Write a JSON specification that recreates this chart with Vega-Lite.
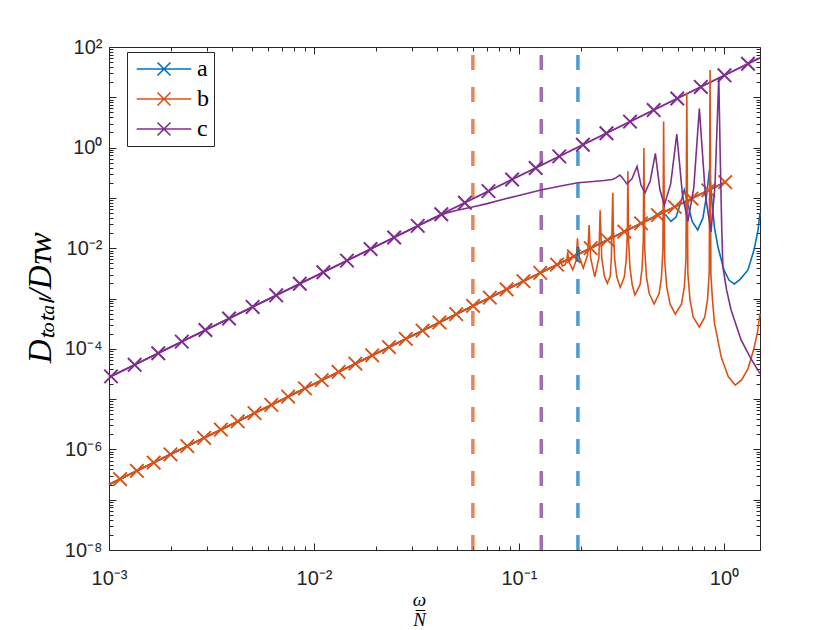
{
  "$schema": "https://vega.github.io/schema/vega-lite/v6.json",
  "width": 651,
  "height": 503,
  "autosize": {"type": "none"},
  "padding": {"left": 109, "top": 47, "right": 80, "bottom": 80},
  "background": "#ffffff",
  "config": {
    "view": {"stroke": null},
    "axis": {
      "grid": false,
      "domainColor": "#262626",
      "domainWidth": 1,
      "tickColor": "#262626",
      "tickWidth": 1,
      "labelColor": "#262626",
      "labelFont": "Liberation Sans",
      "labelFontSize": 20,
      "labelFlush": false,
      "labelOverlap": false,
      "labelBound": false,
      "tickCount": 50
    }
  },
  "datasets": {
    "fit": [
      {"series": "a", "omega": 0.001, "D": 2e-7},
      {"series": "a", "omega": 1.014, "D": 0.2056},
      {"series": "b", "omega": 0.001, "D": 2e-7},
      {"series": "b", "omega": 1.014, "D": 0.2056},
      {"series": "c", "omega": 0.001, "D": 2.7e-5},
      {"series": "c", "omega": 1.5, "D": 60.75}
    ],
    "markers": [
      {"series": "b", "omega": 0.0011324, "D": 2.565e-7},
      {"series": "b", "omega": 0.0013677, "D": 3.741e-7},
      {"series": "b", "omega": 0.001652, "D": 5.458e-7},
      {"series": "b", "omega": 0.0019953, "D": 7.962e-7},
      {"series": "b", "omega": 0.0024099, "D": 1.1614e-6},
      {"series": "b", "omega": 0.0029107, "D": 1.6943e-6},
      {"series": "b", "omega": 0.0035156, "D": 2.4717e-6},
      {"series": "b", "omega": 0.0042462, "D": 3.6058e-6},
      {"series": "b", "omega": 0.0051286, "D": 5.2602e-6},
      {"series": "b", "omega": 0.0061944, "D": 7.674e-6},
      {"series": "b", "omega": 0.0074817, "D": 1.1194e-5},
      {"series": "b", "omega": 0.0090365, "D": 1.6331e-5},
      {"series": "b", "omega": 0.010914, "D": 2.3823e-5},
      {"series": "b", "omega": 0.013183, "D": 3.4754e-5},
      {"series": "b", "omega": 0.015922, "D": 5.0699e-5},
      {"series": "b", "omega": 0.019231, "D": 7.396e-5},
      {"series": "b", "omega": 0.023227, "D": 1.0789e-4},
      {"series": "b", "omega": 0.028054, "D": 1.574e-4},
      {"series": "b", "omega": 0.033884, "D": 2.2961e-4},
      {"series": "b", "omega": 0.040926, "D": 3.3497e-4},
      {"series": "b", "omega": 0.049431, "D": 4.8865e-4},
      {"series": "b", "omega": 0.059704, "D": 7.1285e-4},
      {"series": "b", "omega": 0.072111, "D": 1.0399e-3},
      {"series": "b", "omega": 0.087096, "D": 1.5171e-3},
      {"series": "b", "omega": 0.1052, "D": 2.2131e-3},
      {"series": "b", "omega": 0.12706, "D": 3.2285e-3},
      {"series": "b", "omega": 0.15346, "D": 4.7098e-3},
      {"series": "b", "omega": 0.18535, "D": 6.8707e-3},
      {"series": "b", "omega": 0.22387, "D": 0.010023},
      {"series": "b", "omega": 0.2704, "D": 0.014622},
      {"series": "b", "omega": 0.32659, "D": 0.02133},
      {"series": "b", "omega": 0.39446, "D": 0.031117},
      {"series": "b", "omega": 0.47643, "D": 0.045394},
      {"series": "b", "omega": 0.57544, "D": 0.066222},
      {"series": "b", "omega": 0.69502, "D": 0.096605},
      {"series": "b", "omega": 0.83946, "D": 0.14093},
      {"series": "b", "omega": 1.01391, "D": 0.20559},
      {"series": "c", "omega": 0.001023, "D": 2.83e-5},
      {"series": "c", "omega": 0.001334, "D": 4.8e-5},
      {"series": "c", "omega": 0.001739, "D": 8.16e-5},
      {"series": "c", "omega": 0.002266, "D": 1.387e-4},
      {"series": "c", "omega": 0.002954, "D": 2.357e-4},
      {"series": "c", "omega": 0.003851, "D": 4.003e-4},
      {"series": "c", "omega": 0.005019, "D": 6.8e-4},
      {"series": "c", "omega": 0.006542, "D": 1.156e-3},
      {"series": "c", "omega": 0.008527, "D": 1.963e-3},
      {"series": "c", "omega": 0.01111, "D": 3.336e-3},
      {"series": "c", "omega": 0.01449, "D": 5.67e-3},
      {"series": "c", "omega": 0.01888, "D": 9.63e-3},
      {"series": "c", "omega": 0.02461, "D": 0.01636},
      {"series": "c", "omega": 0.03208, "D": 0.0278},
      {"series": "c", "omega": 0.04181, "D": 0.0472},
      {"series": "c", "omega": 0.0545, "D": 0.0802},
      {"series": "c", "omega": 0.07104, "D": 0.1364},
      {"series": "c", "omega": 0.0926, "D": 0.2316},
      {"series": "c", "omega": 0.1207, "D": 0.3936},
      {"series": "c", "omega": 0.1573, "D": 0.6686},
      {"series": "c", "omega": 0.2051, "D": 1.136},
      {"series": "c", "omega": 0.2673, "D": 1.93},
      {"series": "c", "omega": 0.3484, "D": 3.28},
      {"series": "c", "omega": 0.4542, "D": 5.572},
      {"series": "c", "omega": 0.592, "D": 9.468},
      {"series": "c", "omega": 0.7718, "D": 16.09},
      {"series": "c", "omega": 1.006, "D": 27.33},
      {"series": "c", "omega": 1.311, "D": 46.43}
    ],
    "sim": [
      {"series": "a", "omega": 0.001, "D": 2e-7},
      {"series": "a", "omega": 0.01, "D": 2e-5},
      {"series": "a", "omega": 0.1, "D": 0.002},
      {"series": "a", "omega": 0.2, "D": 0.008},
      {"series": "a", "omega": 0.3, "D": 0.018},
      {"series": "a", "omega": 0.4, "D": 0.032},
      {"series": "a", "omega": 0.45, "D": 0.041},
      {"series": "a", "omega": 0.49, "D": 0.052},
      {"series": "a", "omega": 0.52, "D": 0.046},
      {"series": "a", "omega": 0.552, "D": 0.034},
      {"series": "a", "omega": 0.585, "D": 0.042},
      {"series": "a", "omega": 0.615, "D": 0.08},
      {"series": "a", "omega": 0.641, "D": 0.144},
      {"series": "a", "omega": 0.665, "D": 0.08},
      {"series": "a", "omega": 0.7, "D": 0.034},
      {"series": "a", "omega": 0.745, "D": 0.023},
      {"series": "a", "omega": 0.79, "D": 0.04},
      {"series": "a", "omega": 0.825, "D": 0.12},
      {"series": "a", "omega": 0.85, "D": 0.36},
      {"series": "a", "omega": 0.875, "D": 0.08},
      {"series": "a", "omega": 0.9, "D": 0.025},
      {"series": "a", "omega": 0.935, "D": 0.0107},
      {"series": "a", "omega": 1.0, "D": 0.0037},
      {"series": "a", "omega": 1.06, "D": 0.0023},
      {"series": "a", "omega": 1.125, "D": 0.00195},
      {"series": "a", "omega": 1.2, "D": 0.0024},
      {"series": "a", "omega": 1.31, "D": 0.0037},
      {"series": "a", "omega": 1.4, "D": 0.009},
      {"series": "a", "omega": 1.466, "D": 0.022},
      {"series": "a", "omega": 1.5, "D": 0.05},
      {"series": "b", "omega": 0.001, "D": 2e-7},
      {"series": "b", "omega": 0.01, "D": 2e-5},
      {"series": "b", "omega": 0.05, "D": 5e-4},
      {"series": "b", "omega": 0.1, "D": 0.002},
      {"series": "b", "omega": 0.13, "D": 0.00338},
      {"series": "b", "omega": 0.15, "D": 0.0045},
      {"series": "b", "omega": 0.156, "D": 0.0049},
      {"series": "b", "omega": 0.159, "D": 0.0058},
      {"series": "b", "omega": 0.163, "D": 0.0044},
      {"series": "b", "omega": 0.168, "D": 0.0047},
      {"series": "b", "omega": 0.1715, "D": 0.0062},
      {"series": "b", "omega": 0.173, "D": 0.0085},
      {"series": "b", "omega": 0.175, "D": 0.0055},
      {"series": "b", "omega": 0.183, "D": 0.0037},
      {"series": "b", "omega": 0.1905, "D": 0.0058},
      {"series": "b", "omega": 0.193, "D": 0.0158},
      {"series": "b", "omega": 0.1955, "D": 0.0075},
      {"series": "b", "omega": 0.206, "D": 0.004},
      {"series": "b", "omega": 0.2165, "D": 0.0075},
      {"series": "b", "omega": 0.22, "D": 0.029},
      {"series": "b", "omega": 0.2235, "D": 0.0065},
      {"series": "b", "omega": 0.2345, "D": 0.0027},
      {"series": "b", "omega": 0.2455, "D": 0.0065},
      {"series": "b", "omega": 0.249, "D": 0.057},
      {"series": "b", "omega": 0.2535, "D": 0.0065},
      {"series": "b", "omega": 0.261, "D": 0.0028},
      {"series": "b", "omega": 0.27, "D": 0.002},
      {"series": "b", "omega": 0.279, "D": 0.0028},
      {"series": "b", "omega": 0.2825, "D": 0.0065},
      {"series": "b", "omega": 0.287, "D": 0.126},
      {"series": "b", "omega": 0.289, "D": 0.02},
      {"series": "b", "omega": 0.2934, "D": 0.0058},
      {"series": "b", "omega": 0.3003, "D": 0.0027},
      {"series": "b", "omega": 0.312, "D": 0.00166},
      {"series": "b", "omega": 0.3267, "D": 0.0027},
      {"series": "b", "omega": 0.3336, "D": 0.0058},
      {"series": "b", "omega": 0.338, "D": 0.02},
      {"series": "b", "omega": 0.34, "D": 0.34},
      {"series": "b", "omega": 0.3427, "D": 0.014},
      {"series": "b", "omega": 0.348, "D": 0.0041},
      {"series": "b", "omega": 0.3568, "D": 0.0019},
      {"series": "b", "omega": 0.368, "D": 0.00117},
      {"series": "b", "omega": 0.3903, "D": 0.0019},
      {"series": "b", "omega": 0.399, "D": 0.0041},
      {"series": "b", "omega": 0.4043, "D": 0.014},
      {"series": "b", "omega": 0.407, "D": 0.98},
      {"series": "b", "omega": 0.411, "D": 0.0094},
      {"series": "b", "omega": 0.419, "D": 0.0027},
      {"series": "b", "omega": 0.432, "D": 0.00125},
      {"series": "b", "omega": 0.457, "D": 0.00078},
      {"series": "b", "omega": 0.483, "D": 0.00125},
      {"series": "b", "omega": 0.496, "D": 0.0027},
      {"series": "b", "omega": 0.504, "D": 0.0094},
      {"series": "b", "omega": 0.508, "D": 3.3},
      {"series": "b", "omega": 0.514, "D": 0.0059},
      {"series": "b", "omega": 0.526, "D": 0.0017},
      {"series": "b", "omega": 0.546, "D": 0.00078},
      {"series": "b", "omega": 0.579, "D": 0.00049},
      {"series": "b", "omega": 0.621, "D": 0.00078},
      {"series": "b", "omega": 0.641, "D": 0.0017},
      {"series": "b", "omega": 0.653, "D": 0.0059},
      {"series": "b", "omega": 0.659, "D": 12},
      {"series": "b", "omega": 0.667, "D": 0.0032},
      {"series": "b", "omega": 0.683, "D": 0.00095},
      {"series": "b", "omega": 0.708, "D": 0.00043},
      {"series": "b", "omega": 0.759, "D": 0.00027},
      {"series": "b", "omega": 0.807, "D": 0.00043},
      {"series": "b", "omega": 0.832, "D": 0.00095},
      {"series": "b", "omega": 0.848, "D": 0.0032},
      {"series": "b", "omega": 0.856, "D": 35},
      {"series": "b", "omega": 0.864, "D": 0.003},
      {"series": "b", "omega": 0.88, "D": 0.0009},
      {"series": "b", "omega": 0.9, "D": 0.00032},
      {"series": "b", "omega": 0.97, "D": 6.9e-5},
      {"series": "b", "omega": 1.05, "D": 2.8e-5},
      {"series": "b", "omega": 1.135, "D": 1.9e-5},
      {"series": "b", "omega": 1.22, "D": 2.4e-5},
      {"series": "b", "omega": 1.31, "D": 4e-5},
      {"series": "b", "omega": 1.4, "D": 1e-4},
      {"series": "b", "omega": 1.46, "D": 2.2e-4},
      {"series": "b", "omega": 1.5, "D": 5e-4},
      {"series": "c", "omega": 0.001, "D": 2.7e-5},
      {"series": "c", "omega": 0.01, "D": 0.0027},
      {"series": "c", "omega": 0.03, "D": 0.0243},
      {"series": "c", "omega": 0.04, "D": 0.042},
      {"series": "c", "omega": 0.045, "D": 0.051},
      {"series": "c", "omega": 0.05, "D": 0.057},
      {"series": "c", "omega": 0.0593, "D": 0.066},
      {"series": "c", "omega": 0.07, "D": 0.077},
      {"series": "c", "omega": 0.0815, "D": 0.091},
      {"series": "c", "omega": 0.1, "D": 0.112},
      {"series": "c", "omega": 0.128, "D": 0.144},
      {"series": "c", "omega": 0.16, "D": 0.172},
      {"series": "c", "omega": 0.194, "D": 0.2},
      {"series": "c", "omega": 0.23, "D": 0.212},
      {"series": "c", "omega": 0.26, "D": 0.222},
      {"series": "c", "omega": 0.285, "D": 0.232},
      {"series": "c", "omega": 0.297, "D": 0.25},
      {"series": "c", "omega": 0.311, "D": 0.285},
      {"series": "c", "omega": 0.32, "D": 0.25},
      {"series": "c", "omega": 0.336, "D": 0.19},
      {"series": "c", "omega": 0.356, "D": 0.24},
      {"series": "c", "omega": 0.377, "D": 0.42},
      {"series": "c", "omega": 0.394, "D": 0.18},
      {"series": "c", "omega": 0.412, "D": 0.126},
      {"series": "c", "omega": 0.437, "D": 0.217},
      {"series": "c", "omega": 0.463, "D": 0.77},
      {"series": "c", "omega": 0.487, "D": 0.147},
      {"series": "c", "omega": 0.512, "D": 0.072},
      {"series": "c", "omega": 0.55, "D": 0.19},
      {"series": "c", "omega": 0.589, "D": 1.86},
      {"series": "c", "omega": 0.628, "D": 0.113},
      {"series": "c", "omega": 0.667, "D": 0.034},
      {"series": "c", "omega": 0.713, "D": 0.16},
      {"series": "c", "omega": 0.759, "D": 6},
      {"series": "c", "omega": 0.812, "D": 0.115},
      {"series": "c", "omega": 0.865, "D": 0.021},
      {"series": "c", "omega": 0.905, "D": 0.18},
      {"series": "c", "omega": 0.944, "D": 25},
      {"series": "c", "omega": 0.96, "D": 0.6},
      {"series": "c", "omega": 0.975, "D": 0.03},
      {"series": "c", "omega": 0.988, "D": 0.0043},
      {"series": "c", "omega": 1.03, "D": 0.0015},
      {"series": "c", "omega": 1.084, "D": 5.9e-4},
      {"series": "c", "omega": 1.213, "D": 1.5e-4},
      {"series": "c", "omega": 1.35, "D": 6.5e-5},
      {"series": "c", "omega": 1.5, "D": 3.2e-5}
    ],
    "cut": [
      {"series": "b", "omega": 0.0596},
      {"series": "c", "omega": 0.1285},
      {"series": "a", "omega": 0.194}
    ]
  },
  "resolve": {"axis": {"x": "independent", "y": "independent"}},
  "layer": [
    {
      "data": {"name": "sim"},
      "transform": [{"filter": "datum.series == 'a'"}],
      "mark": {"type": "line", "strokeWidth": 1.6},
      "encoding": {
        "x": {
          "field": "omega",
          "type": "quantitative",
          "scale": {"type": "log", "domain": [0.001, 1.5], "nice": false},
          "axis": {
            "orient": "bottom",
            "tickCount": 50,
            "labelExpr": "abs(log(datum.value)/LN10 - round(log(datum.value)/LN10)) < 0.000001 ? '10' + replace(replace(replace(replace(replace(toString(round(log(datum.value)/LN10)), '-', '⁻'), '0', '⁰'), '1', '¹'), '2', '²'), '3', '³') : ''",
            "tickSize": {"condition": {"test": "abs(log(datum.value)/LN10 - round(log(datum.value)/LN10)) < 0.000001", "value": -7}, "value": -4},
            "labelPadding": 25,
            "title": ["ω", "N̅"],
            "titleFont": "Liberation Serif",
            "titleFontStyle": "italic",
            "titleFontWeight": "normal",
            "titleFontSize": 19,
            "titleLineHeight": 20,
            "titleColor": "#000000",
            "titleX": 310,
            "titleY": 55,
            "titleAlign": "center",
            "titleBaseline": "alphabetic"
          }
        },
        "y": {
          "field": "D",
          "type": "quantitative",
          "scale": {"type": "log", "domain": [1e-8, 100], "nice": false},
          "axis": {
            "orient": "left",
            "tickCount": 50,
            "labelExpr": "abs(log(datum.value)/LN10 - round(log(datum.value)/LN10)) < 0.000001 && round(log(datum.value)/LN10) % 2 == 0 ? '10' + replace(replace(replace(replace(replace(replace(toString(round(log(datum.value)/LN10)), '-', '⁻'), '0', '⁰'), '2', '²'), '4', '⁴'), '6', '⁶'), '8', '⁸') : ''",
            "tickSize": {"condition": {"test": "abs(log(datum.value)/LN10 - round(log(datum.value)/LN10)) < 0.000001", "value": -7}, "value": -4},
            "labelPadding": 14,
            "title": "Dₜₒₜₐₗ/Dᴛᴡ",
            "titleFont": "Liberation Serif",
            "titleFontStyle": "italic",
            "titleFontWeight": "normal",
            "titleFontSize": 33,
            "titleColor": "#000000",
            "titleAngle": 270,
            "titleX": -69,
            "titleY": 251,
            "titleAlign": "center",
            "titleBaseline": "middle"
          }
        },
        "color": {
          "field": "series",
          "type": "nominal",
          "scale": {"domain": ["a", "b", "c"], "range": ["#0072BD", "#D95319", "#7E2F8E"]},
          "legend": {
            "title": null,
            "orient": "none",
            "legendX": 18,
            "legendY": 5,
            "symbolType": "M-3.03,0L3.03,0M-0.72,-0.72L0.72,0.72M0.72,-0.72L-0.72,0.72",
            "symbolSize": 325,
            "symbolStrokeWidth": 1.6,
            "symbolFillColor": "transparent",
            "symbolOffset": 20,
            "labelOffset": 21,
            "labelFont": "Liberation Serif",
            "labelFontSize": 24,
            "labelColor": "#000000",
            "rowPadding": 6,
            "padding": 5,
            "strokeColor": "#262626",
            "fillColor": "#ffffff",
            "cornerRadius": 0
          }
        }
      }
    },
    {
      "data": {"name": "fit"},
      "mark": {"type": "line", "strokeWidth": 1.8},
      "encoding": {
        "x": {
          "field": "omega",
          "type": "quantitative",
          "scale": {"type": "log", "domain": [0.001, 1.5], "nice": false},
          "axis": {
            "orient": "top",
            "tickCount": 50,
            "labels": false,
            "title": null,
            "tickSize": {"condition": {"test": "abs(log(datum.value)/LN10 - round(log(datum.value)/LN10)) < 0.000001", "value": -7}, "value": -4}
          }
        },
        "y": {
          "field": "D",
          "type": "quantitative",
          "scale": {"type": "log", "domain": [1e-8, 100], "nice": false},
          "axis": {
            "orient": "right",
            "tickCount": 50,
            "labels": false,
            "title": null,
            "tickSize": {"condition": {"test": "abs(log(datum.value)/LN10 - round(log(datum.value)/LN10)) < 0.000001", "value": -7}, "value": -4}
          }
        },
        "color": {"field": "series", "type": "nominal"}
      }
    },
    {
      "data": {"name": "markers"},
      "mark": {"type": "point", "shape": "M-0.75,-0.75L0.75,0.75M0.75,-0.75L-0.75,0.75", "size": 325, "strokeWidth": 2, "filled": false, "opacity": 1},
      "encoding": {
        "x": {"field": "omega", "type": "quantitative", "axis": null},
        "y": {"field": "D", "type": "quantitative", "axis": null},
        "color": {"field": "series", "type": "nominal"}
      }
    },
    {
      "data": {"name": "sim"},
      "transform": [{"filter": "datum.series != 'a'"}],
      "mark": {"type": "line", "strokeWidth": 1.6},
      "encoding": {
        "x": {"field": "omega", "type": "quantitative", "axis": null},
        "y": {"field": "D", "type": "quantitative", "axis": null},
        "color": {"field": "series", "type": "nominal"}
      }
    },
    {
      "data": {"name": "cut"},
      "mark": {"type": "rule", "strokeWidth": 3.5, "strokeDash": [15, 17], "opacity": 0.7},
      "encoding": {
        "x": {"field": "omega", "type": "quantitative", "axis": null},
        "y": {"datum": 1e-8, "type": "quantitative", "axis": null},
        "y2": {"datum": 100},
        "stroke": {
          "field": "series",
          "type": "nominal",
          "scale": {"domain": ["a", "b", "c"], "range": ["#0072BD", "#D95319", "#7E2F8E"]},
          "legend": null
        }
      }
    }
  ]
}
